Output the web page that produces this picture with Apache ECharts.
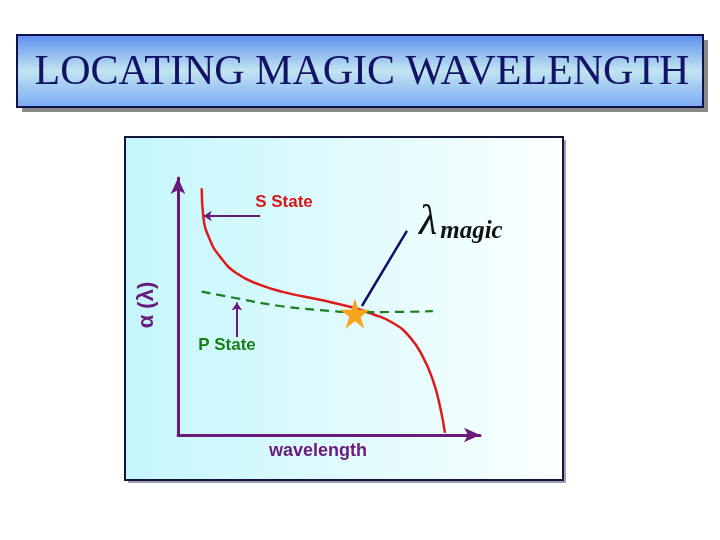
<!DOCTYPE html>
<html>
<head>
<meta charset="utf-8">
<script src="https://cdn.jsdelivr.net/npm/echarts@6/dist/echarts.min.js"></script>
<style>
  html, body { margin: 0; padding: 0; background: #ffffff; }
  #chart { width: 720px; height: 540px; }
</style>
</head>
<body>
<div id="chart"></div>
<script>
// S state polarizability (arbitrary units, 0-100)
var sStateX = [7.85, 8.4, 10.6, 13.9, 19.4, 27.2, 36.0, 47.0, 57.9, 64.6, 71.2, 76.8, 81.1, 84.4, 86.8, 88.4];
var sStateY = [96.0, 84.9, 75.9, 69.4, 62.9, 58.4, 55.3, 52.6, 49.6, 47.0, 43.6, 38.1, 30.4, 21.4, 10.9, 0.8];
// P state polarizability (dashed)
var pStateX = [7.85, 19.4, 33.8, 50.3, 58.6, 73.5, 84.4];
var pStateY = [55.8, 53.2, 50.2, 48.3, 47.8, 47.9, 48.2];
// crossing point (magic wavelength)
var magicPoint = [58.6, 47.3];
// pointer lines
var magicPointer = [[60.9, 50.2], [75.8, 79.4]];
var sPointer = [[27.2, 85.2], [8.5, 85.2]];
var pPointer = [[19.5, 38.1], [19.5, 51.6]];

var purple = '#6a1a7c';

function zip(xs, ys) {
  return xs.map(function (x, i) { return [x, ys[i]]; });
}

var chart = echarts.init(document.getElementById('chart'));
chart.setOption({
  animation: false,
  graphic: [
    // title box shadow + box
    { type: 'rect', z: -10, shape: { x: 22, y: 40, width: 686, height: 72 }, style: { fill: '#8a8a8a' } },
    { type: 'rect', z: -9, shape: { x: 17, y: 35, width: 686, height: 72 },
      style: {
        stroke: '#10104a', lineWidth: 2,
        fill: new echarts.graphic.LinearGradient(0, 0, 0, 1, [
          { offset: 0, color: '#5a8ef0' },
          { offset: 0.5, color: '#c2e4f0' },
          { offset: 1, color: '#78aaf6' }
        ])
      }
    },
    { type: 'text', z: -8, x: 362, y: 73,
      style: {
        text: 'LOCATING MAGIC WAVELENGTH', fill: '#121266',
        font: '42px "Liberation Serif", serif', align: 'center', verticalAlign: 'middle'
      }
    },
    // chart panel shadow + panel
    { type: 'rect', z: -10, shape: { x: 128, y: 140, width: 438, height: 343 }, style: { fill: '#a0a0b0' } },
    { type: 'rect', z: -9, shape: { x: 125, y: 137, width: 438, height: 343 },
      style: {
        stroke: '#14143c', lineWidth: 2,
        fill: new echarts.graphic.LinearGradient(0, 0, 1, 0, [
          { offset: 0, color: '#c4f6fc' },
          { offset: 1, color: '#fbffff' }
        ])
      }
    },
    // labels
    { type: 'text', x: 147, y: 305, rotation: Math.PI / 2,
      style: { text: 'α (λ)', fill: purple, font: 'bold 22px "Liberation Sans", sans-serif', align: 'center', verticalAlign: 'middle' } },
    { type: 'text', x: 318, y: 451,
      style: { text: 'wavelength', fill: purple, font: 'bold 18px "Liberation Sans", sans-serif', align: 'center', verticalAlign: 'middle' } },
    { type: 'text', x: 284, y: 202,
      style: { text: 'S State', fill: '#d81818', font: 'bold 17px "Liberation Sans", sans-serif', align: 'center', verticalAlign: 'middle' } },
    { type: 'text', x: 227, y: 345,
      style: { text: 'P State', fill: '#168016', font: 'bold 17px "Liberation Sans", sans-serif', align: 'center', verticalAlign: 'middle' } },
    { type: 'text', x: 419, y: 244,
      style: {
        text: '{l|λ}{s|magic}', fill: '#111111', verticalAlign: 'bottom',
        rich: {
          l: { font: 'italic 42px "Liberation Serif", serif', fill: '#111111' },
          s: { font: 'bold italic 25px "Liberation Serif", serif', fill: '#111111', padding: [18, 0, 0, 3] }
        }
      }
    }
  ],
  grid: { left: 178, top: 178, width: 302, height: 257 },
  xAxis: {
    type: 'value', min: 0, max: 100,
    axisLine: { lineStyle: { color: purple, width: 3 }, symbol: ['none', 'arrow'], symbolSize: [11, 16] },
    axisTick: { show: false }, axisLabel: { show: false }, splitLine: { show: false }
  },
  yAxis: {
    type: 'value', min: 0, max: 100,
    axisLine: { lineStyle: { color: purple, width: 3 }, symbol: ['none', 'arrow'], symbolSize: [11, 16] },
    axisTick: { show: false }, axisLabel: { show: false }, splitLine: { show: false }
  },
  series: [
    {
      name: 'S State', type: 'line', smooth: 0.5, showSymbol: false,
      data: zip(sStateX, sStateY),
      lineStyle: { color: '#dc1c1c', width: 2.5 }
    },
    {
      name: 'P State', type: 'line', smooth: 0.5, showSymbol: false,
      data: zip(pStateX, pStateY),
      lineStyle: { color: '#1a8020', width: 2.2, type: [9, 6] }
    },
    {
      name: 'pointers', type: 'lines', coordinateSystem: 'cartesian2d', z: 3,
      data: [
        { coords: magicPointer, symbol: ['none', 'none'], lineStyle: { color: '#10106a', width: 2.5 } },
        { coords: sPointer, symbol: ['none', 'arrow'], symbolSize: 8, lineStyle: { color: purple, width: 2 } },
        { coords: pPointer, symbol: ['none', 'arrow'], symbolSize: 8, lineStyle: { color: purple, width: 2 } }
      ],
      lineStyle: { opacity: 1, curveness: 0 }
    },
    {
      name: 'magic', type: 'scatter', z: 5,
      data: [magicPoint], symbol: 'path://M50,0 L61.8,36.2 L100,36.2 L69.1,58.8 L80.9,95.1 L50,72.7 L19.1,95.1 L30.9,58.8 L0,36.2 L38.2,36.2 Z',
      symbolSize: 30, itemStyle: { color: '#f9a41e', opacity: 1 }
    }
  ]
});
</script>
</body>
</html>
